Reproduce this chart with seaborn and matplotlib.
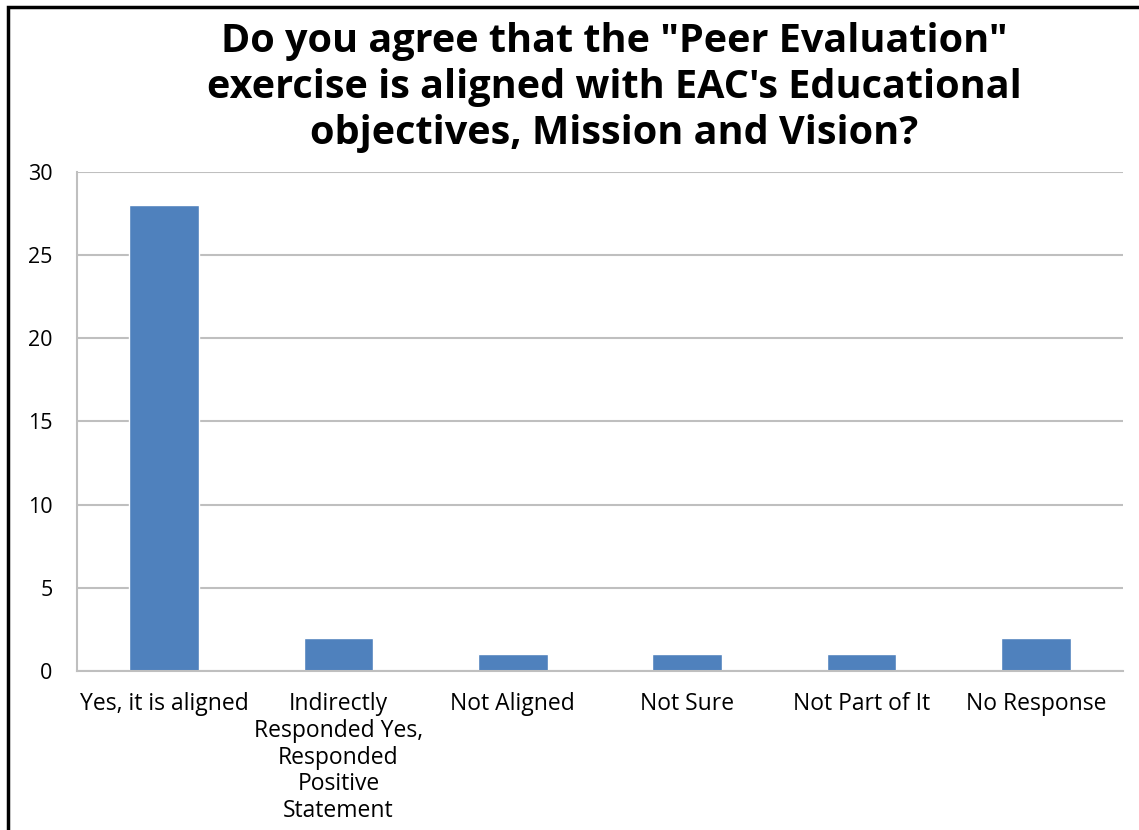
import numpy as np
import pandas as pd
import matplotlib
matplotlib.use("Agg")
import matplotlib.pyplot as plt
import seaborn as sns
from matplotlib.patches import Rectangle

# data
categories = [
    "Yes, it is aligned",
    "Indirectly\nResponded Yes,\nResponded\nPositive\nStatement",
    "Not Aligned",
    "Not Sure",
    "Not Part of It",
    "No Response",
]
counts = [28, 2, 1, 1, 1, 2]
y_ticks = [0, 5, 10, 15, 20, 25, 30]

title_text = ('Do you agree that the "Peer Evaluation"\n'
              "exercise is aligned with EAC's Educational\n"
              "objectives, Mission and Vision?")

df = pd.DataFrame({"category": categories, "count": counts})

sns.set_style("white")
plt.rcParams['font.family'] = ['Open Sans', 'DejaVu Sans']

fig = plt.figure(figsize=(11.39, 8.30), dpi=100)
ax = fig.add_axes([0.0676, 0.1916, 0.986 - 0.0676, 0.7928 - 0.1916])

sns.barplot(data=df, x="category", y="count", color="#4F81BD",
            width=0.4, saturation=1, ax=ax)

grid_col = "#BFBFBF"
ax.set_ylim(0, 30)
ax.set_xlim(-0.5, len(categories) - 0.5)
ax.set_yticks(y_ticks)
ax.yaxis.grid(True, color=grid_col, linewidth=1.5)
ax.set_axisbelow(True)
ax.set_xlabel("")
ax.set_ylabel("")

for s in ["top", "right"]:
    ax.spines[s].set_visible(False)
for s in ["left", "bottom"]:
    ax.spines[s].set_color(grid_col)
    ax.spines[s].set_linewidth(1.5)

ax.tick_params(axis="y", length=6.5, width=1.5, color=grid_col, pad=11,
               labelsize=15.5, labelcolor="#000000")
ax.tick_params(axis="x", length=0, pad=15, labelsize=16.5, labelcolor="#000000")
ax.set_xticks(np.arange(-0.5, len(categories)), minor=True)
ax.tick_params(axis="x", which="minor", length=4.3, width=1.5, color=grid_col)
for lbl in ax.get_xticklabels():
    lbl.set_horizontalalignment("center")
    lbl.set_linespacing(1.16)

fig.text(0.539, 0.974, title_text, ha="center", va="top", fontsize=28.5,
         fontweight="bold", color="black", linespacing=1.24)

# outer frame (only left and top edges visible in the reference)
fig.patches.append(Rectangle((8 / 1139, -0.05), 1.2, 1 - 7 / 830 + 0.05,
                             transform=fig.transFigure, fill=False,
                             edgecolor="black", linewidth=2.5))

fig.savefig("out.png", dpi=100)
